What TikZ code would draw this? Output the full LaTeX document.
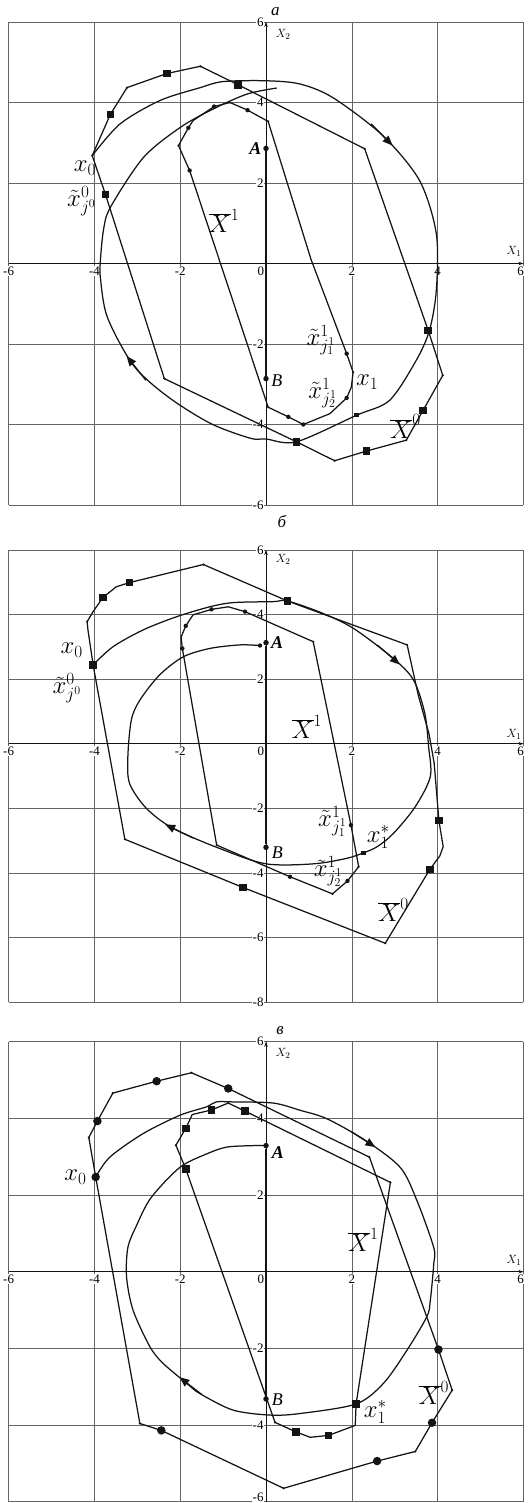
\documentclass[tikz,border=0pt]{standalone}
\usepackage{fontspec}
\setmainfont{Liberation Serif}
\usepackage{tikz}
\usetikzlibrary{arrows.meta,positioning}
\definecolor{GridGray}{RGB}{100,100,100}
\definecolor{Ink}{RGB}{20,20,20}

% grid, axes and tick labels of one panel: #1 lowest y, #2 y ticks, #3 name prefix
\newcommand{\panelaxes}[3]{%
  \draw[gridline] (-6,#1) grid[xstep=2,ystep=2] (6,6);
  \draw[axisline] (-6,0) -- (6,0);
  \draw[axisline] (0,#1) -- (0,6);
  \foreach \t [count=\k] in {-6,-4,-2,2,4} \node[xtick] (#3xt\k) at (\t,0) {\t};
  \node[xtick, anchor=north east, xshift=-1bp] (#3xtz) at (0,0) {0};
  \node[xtick, anchor=north east, xshift=1.5bp] (#3xtr) at (6,0) {6};
  \foreach \t [count=\k] in {#2} \node[ytick] (#3yt\k) at (0,\t) {\t};
  \node[axlabel] (#3Xtwo) at (0.4,5.7) {$X_2$};
  \node[axlabel] (#3Xone) at (5.78,0.3) {$X_1$};
}

\begin{document}
\begin{tikzpicture}[
  x=1bp, y=-1bp,
  gridline/.style={draw=GridGray, line width=0.6bp},
  axisline/.style={draw=Ink, line width=0.7bp, -{Stealth[length=5bp,width=3.5bp]}},
  curve/.style={draw=Ink, line width=1.25bp, line join=round},
  segAB/.style={draw=Ink, line width=2.2bp},
  tipmark/.style={draw=Ink, line width=1.25bp, -{Triangle[length=10bp,width=8bp]}},
  sq/.style={rectangle, fill=Ink, inner sep=0pt, minimum size=7.5bp},
  smallsq/.style={sq, minimum size=4.5bp},
  dot/.style={circle, fill=Ink, inner sep=0pt, minimum size=4.4bp},
  bigdot/.style={dot, minimum size=8.5bp},
  vtx/.style={circle, fill=Ink, inner sep=0pt, minimum size=2.4bp},
  endpt/.style={dot, minimum size=5.5bp},
  tick/.style={fill=white, inner sep=0.8bp, font=\fontsize{13}{14}\selectfont},
  xtick/.style={tick, anchor=north, yshift=-2bp},
  ytick/.style={tick, anchor=east, xshift=-1.5bp},
  axlabel/.style={font=\fontsize{13}{14}\selectfont, inner sep=0pt},
  panellabel/.style={font=\fontsize{17}{18}\selectfont\itshape, inner sep=0pt},
  setlabel/.style={font=\fontsize{24}{25}\selectfont, inner sep=0pt},
  ptlabel/.style={font=\fontsize{18}{19}\selectfont\itshape, inner sep=0pt},
]
\useasboundingbox (0,0) rectangle (528,1503);

%% panel a
\begin{scope}[shift={(266,263.5)}, x=42.9bp, y=40.25bp]
\panelaxes{-6}{-6,-4,-2,2,4,6}{a}
\node[panellabel] (pa) at (0.22,6.25) {а};
% outer set
\draw[curve] (-4.05,2.68) -- (-3.63,3.70) -- (-3.24,4.37) -- (-2.31,4.72) -- (-1.53,4.9)
  -- (-0.65,4.44) -- (2.3,2.85) -- (3.78,-1.66) -- (4.12,-2.78) -- (3.66,-3.65)
  -- (3.27,-4.39) -- (2.34,-4.66) -- (1.6,-4.9) -- (0.71,-4.43) -- (-2.37,-2.86)
  -- (-3.74,1.71) -- cycle;
% inner set
\draw[curve] (-2.04,2.93) -- (-1.81,3.37) -- (-1.7,3.55) -- (-1.21,3.9) -- (-0.84,4.0)
  -- (-0.43,3.81) -- (0.05,3.53) -- (1.05,0.1) -- (1.88,-2.24) -- (2.03,-2.70) -- (1.99,-3.07)
  -- (1.88,-3.34) -- (1.49,-3.73) -- (0.87,-4.0) -- (0.52,-3.81) -- (0.05,-3.57)
  -- (-1.78,2.31) -- cycle;
% trajectory
\draw[curve] plot[smooth, tension=0.5] coordinates {(-4.05,2.68) (-3.4,3.47) (-2.47,4.05)
  (-1.53,4.37) (-1.0,4.52) (0,4.54) (0.79,4.46) (1.56,4.12) (2.72,3.18) (3.58,2.06)
  (3.97,0.74) (3.97,-0.67) (3.81,-1.66) (3.5,-2.41) (2.88,-3.4) (2.11,-3.77) (0.71,-4.43)
  (0,-4.36) (-0.37,-4.34) (-1.3,-3.97) (-2.3,-3.3) (-3.09,-2.53) (-3.7,-1.33) (-3.86,-0.35)
  (-3.86,0.07) (-3.79,0.82) (-3.63,1.39) (-2.86,2.63) (-2.0,3.38) (-1.23,3.84) (-0.44,4.21)
  (0.25,4.36)};
\draw[tipmark] (2.45,3.47) -- (2.95,2.93);
\draw[tipmark] (-2.8,-2.9) -- (-3.25,-2.3);
% markers
\foreach \p [count=\k] in {(-3.63,3.70),(-2.31,4.72),(-0.65,4.44),(3.78,-1.66),
  (3.66,-3.65),(2.34,-4.66),(0.71,-4.43),(-3.74,1.71)}
  \node[sq] (asq\k) at \p {};
\foreach \p [count=\k] in {(-1.81,3.37),(-1.21,3.9),(-0.43,3.81),(-1.78,2.31),
  (1.88,-2.24),(1.88,-3.34),(0.87,-4.0),(0.52,-3.81)}
  \node[dot] (adot\k) at \p {};
\node[smallsq] (amid) at (2.11,-3.77) {};
\foreach \p [count=\k] in {(-3.24,4.37),(-1.53,4.9),(2.3,2.85),(4.12,-2.78),(3.27,-4.39),
  (1.6,-4.9),(-2.37,-2.86),(-2.04,2.93),(-0.84,4.0),(0.05,3.53),(0.05,-3.57),(2.03,-2.7)}
  \node[vtx] (avx\k) at \p {};
\node[vtx] (ax0) at (-4.05,2.68) {};
% segment AB
\node[endpt] (Aa) at (0,2.86) {};
\node[endpt] (Ba) at (0,-2.86) {};
\draw[segAB] (Aa) -- (Ba);
\node[ptlabel, left=1.5bp of Aa] (lAa) {\textbf{A}};
\node[ptlabel, anchor=north west] (lBa) at (0.12,-2.75) {B};
% labels
\node[setlabel] (lx0a) at (-4.22,2.37) {$x_0$};
\node[setlabel] (lxt0a) at (-4.3,1.55) {$\tilde{x}^{0}_{j^0}$};
\node[setlabel] (lXonea) at (-0.98,1.06) {$\overline{X}^{1}$};
\node[setlabel] (lxj1a) at (1.28,-1.9) {$\tilde{x}^{1}_{j^1_1}$};
\node[setlabel] (lx1a) at (2.36,-2.95) {$x_1$};
\node[setlabel] (lxj2a) at (1.32,-3.22) {$\tilde{x}^{1}_{j^1_2}$};
\node[setlabel] (lXzeroa) at (3.25,-4.05) {$\overline{X}^{0}$};
\end{scope}

%% panel b
\begin{scope}[shift={(266,743.7)}, x=42.9bp, y=32.29bp]
\panelaxes{-8}{-8,-6,-4,-2,2,4,6}{b}
\node[panellabel] (pb) at (0.37,6.87) {б};
% outer set
\draw[curve] (-4.03,2.44) -- (-4.15,3.52) -- (-4.17,3.78) -- (-4.03,4.09) -- (-3.8,4.53)
  -- (-3.49,4.86) -- (-3.18,4.99) -- (-1.46,5.55) -- (0.5,4.42) -- (3.29,3.06)
  -- (3.55,1.5) -- (3.8,0.3) -- (3.92,-0.6) -- (4.03,-2.38) -- (4.13,-3.19) -- (4.05,-3.48)
  -- (3.82,-3.89) -- (2.78,-6.18) -- (-0.54,-4.45) -- (-3.29,-2.96) -- cycle;
% inner set
\draw[curve] (-1.95,2.95) -- (-1.98,3.3) -- (-1.87,3.65) -- (-1.7,3.99) -- (-1.27,4.16)
  -- (-0.88,4.24) -- (-0.49,4.09) -- (1.1,3.16) -- (1.98,-2.52) -- (2.16,-3.81)
  -- (1.9,-4.25) -- (1.55,-4.65) -- (0.56,-4.12) -- (-1.15,-3.14) -- cycle;
% trajectory
\draw[curve] plot[smooth, tension=0.5] coordinates {(-4.03,2.44) (-3.57,3.0) (-2.87,3.52)
  (-2.09,3.93) (-1.31,4.24) (-0.76,4.37) (0.17,4.40) (0.5,4.42) (1.3,4.05) (2.04,3.57)
  (2.97,2.64) (3.44,1.97) (3.7,0.95) (3.79,-0.09) (3.83,-1.02) (3.48,-1.95) (2.97,-2.78)
  (2.59,-3.19) (2.27,-3.38) (1.88,-3.55) (1.11,-3.72) (0,-3.72) (-1.07,-3.25)
  (-2.17,-2.62) (-2.79,-2.0) (-3.18,-1.23) (-3.22,-0.4) (-3.14,0.73) (-2.94,1.35)
  (-2.48,2.13) (-1.93,2.69) (-1.31,2.95) (-0.61,3.06) (-0.14,3.04)};
\draw[tipmark] (2.6,3.05) -- (3.12,2.45);
\draw[tipmark] (-1.7,-2.92) -- (-2.35,-2.5);
% markers
\foreach \p [count=\k] in {(-4.03,2.44),(-3.8,4.53),(-3.18,4.99),(0.5,4.42),
  (4.03,-2.38),(3.82,-3.89),(-0.54,-4.45)}
  \node[sq] (bsq\k) at \p {};
\foreach \p [count=\k] in {(-1.95,2.95),(-1.87,3.65),(-1.27,4.16),(-0.49,4.09),
  (1.98,-2.52),(1.9,-4.25),(0.56,-4.12),(-0.14,3.04)}
  \node[dot] (bdot\k) at \p {};
\node[smallsq] (bxs) at (2.27,-3.38) {};
\foreach \p [count=\k] in {(-4.17,3.78),(-1.46,5.55),(3.29,3.06),(2.78,-6.18),
  (-3.29,-2.96),(1.1,3.16),(2.16,-3.81),(1.55,-4.65),(-1.15,-3.14)}
  \node[vtx] (bvx\k) at \p {};
% segment AB
\node[endpt] (Ab) at (0,3.13) {};
\node[endpt] (Bb) at (0,-3.21) {};
\draw[segAB] (Ab) -- (Bb);
\node[ptlabel, right=2bp of Ab] (lAb) {\textbf{A}};
\node[ptlabel, anchor=west] (lBb) at (0.13,-3.36) {B};
% labels
\node[setlabel] (lx0b) at (-4.53,2.9) {$x_0$};
\node[setlabel] (lxt0b) at (-4.64,1.72) {$\tilde{x}^{0}_{j^0}$};
\node[setlabel] (lXoneb) at (0.95,0.53) {$\overline{X}^{1}$};
\node[setlabel] (lxj1b) at (1.55,-2.4) {$\tilde{x}^{1}_{j^1_1}$};
\node[setlabel] (lx1b) at (2.62,-2.9) {$x^{*}_1$};
\node[setlabel] (lxj2b) at (1.45,-3.95) {$\tilde{x}^{1}_{j^1_2}$};
\node[setlabel] (lXzerob) at (2.97,-5.15) {$\overline{X}^{0}$};
\end{scope}

%% panel c
\begin{scope}[shift={(266,1271.7)}, x=42.9bp, y=38.33bp]
\panelaxes{-6}{-4,-2,2,4,6}{c}
\node[ytick, yshift=4bp] (cytlow) at (0,-6) {-6};
\node[panellabel] (pc) at (0.33,6.3) {в};
% outer set
\draw[curve] (-3.97,2.47) -- (-4.13,3.5) -- (-3.93,3.93) -- (-3.57,4.66) -- (-2.55,4.97)
  -- (-1.74,5.19) -- (-0.88,4.78) -- (2.41,2.99) -- (4.02,-2.03) -- (4.34,-3.09)
  -- (3.87,-3.94) -- (3.48,-4.69) -- (2.59,-4.94) -- (0.41,-5.65) -- (-2.44,-4.14)
  -- (-2.94,-3.96) -- cycle;
% inner set
\draw[curve] (-2.1,3.3) -- (-1.87,3.74) -- (-1.72,4.1) -- (-1.27,4.22) -- (-0.88,4.4)
  -- (-0.49,4.19) -- (2.9,2.33) -- (2.1,-3.45) -- (2.08,-4.01) -- (1.46,-4.27)
  -- (1.03,-4.32) -- (0.7,-4.18) -- (0.21,-3.93) -- (-1.87,2.68) -- cycle;
% trajectory
\draw[curve] plot[smooth, tension=0.5] coordinates {(-3.97,2.47) (-3.64,2.99) (-2.87,3.6)
  (-2.01,4.08) (-1.39,4.3) (-1.16,4.43) (-0.77,4.43) (0.17,4.4) (0.8,4.21) (1.42,3.99)
  (2.31,3.43) (3.13,2.72) (3.52,1.85) (3.91,0.63) (3.91,0.2) (3.83,-0.75) (3.75,-1.17)
  (3.29,-2.04) (2.74,-2.91) (2.1,-3.45) (0.79,-3.7) (0.09,-3.74) (-0.77,-3.61)
  (-1.54,-3.18) (-1.85,-2.91) (-2.4,-2.39) (-2.71,-1.95) (-3.1,-1.0) (-3.25,-0.14)
  (-3.22,0.63) (-3.02,1.2) (-2.68,1.93) (-2.01,2.72) (-1.39,3.07) (-0.92,3.25)
  (-0.3,3.29) (0,3.29)};
\draw[tipmark] (1.98,3.66) -- (2.55,3.25);
\draw[tipmark] (-1.5,-3.2) -- (-2.02,-2.75);
% markers
\foreach \p [count=\k] in {(-3.97,2.47),(-3.93,3.93),(-2.55,4.97),(-0.88,4.78),
  (4.02,-2.03),(3.87,-3.94),(2.59,-4.94),(-2.44,-4.14)}
  \node[bigdot] (cbd\k) at \p {};
\foreach \p [count=\k] in {(-1.87,3.74),(-1.27,4.22),(-0.49,4.19),(2.1,-3.45),
  (1.46,-4.27),(0.7,-4.18),(-1.87,2.68)}
  \node[sq] (csq\k) at \p {};
\foreach \p [count=\k] in {(-4.13,3.5),(-3.57,4.66),(-1.74,5.19),(2.41,2.99),(4.34,-3.09),
  (3.48,-4.69),(0.41,-5.65),(-2.94,-3.96),(-2.1,3.3),(2.9,2.33),(0.21,-3.93),(-0.88,4.4)}
  \node[vtx] (cvx\k) at \p {};
% segment AB
\node[endpt] (Ac) at (0,3.29) {};
\node[endpt] (Bc) at (0,-3.32) {};
\draw[segAB] (Ac) -- (Bc);
\node[ptlabel, anchor=west] (lAc) at (0.13,3.1) {\textbf{A}};
\node[ptlabel, anchor=west] (lBc) at (0.13,-3.33) {B};
% labels
\node[setlabel] (lx0c) at (-4.44,2.47) {$x_0$};
\node[setlabel] (lXonec) at (2.27,0.83) {$\overline{X}^{1}$};
\node[setlabel] (lx1c) at (2.55,-3.65) {$x^{*}_1$};
\node[setlabel] (lXzeroc) at (3.91,-3.17) {$\overline{X}^{0}$};
\end{scope}
\end{tikzpicture}
\end{document}
